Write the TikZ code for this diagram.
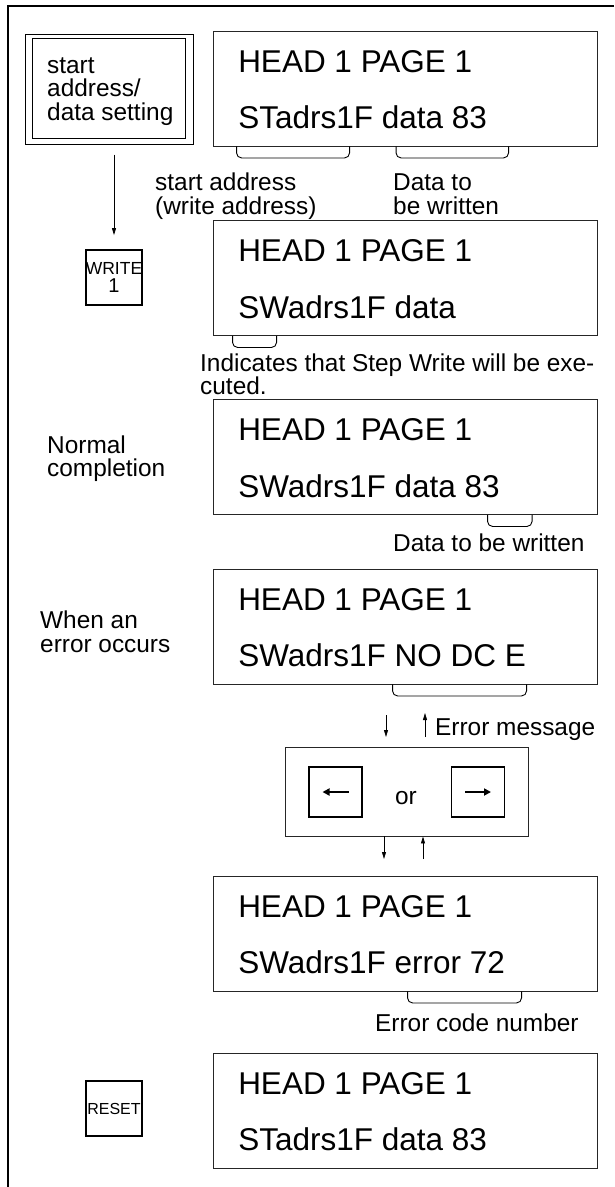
\documentclass[tikz,border=0pt]{standalone}
\usepackage{fontspec}
\setmainfont{Liberation Sans}
\usetikzlibrary{arrows.meta}
\usetikzlibrary{calc}

\begin{document}
\begin{tikzpicture}[x=1pt,y=-1pt,
    lcd/.style={draw=black!85,line width=0.9pt,minimum width=383.5pt,minimum height=115pt,inner sep=0pt},
    lcdtxt/.style={anchor=base west,inner sep=0pt,font=\fontsize{31.5}{31.5}\selectfont},
    keybox/.style={draw,line width=1.8pt,minimum width=56pt,minimum height=55pt,inner sep=0pt},
    lbl/.style={inner sep=0pt,align=left,font=\fontsize{24.4}{23.5}\selectfont},
    brk/.style={line width=0.9pt,rounded corners=5pt},
    arr/.style={line width=0.8pt,-{Triangle[length=7pt,width=4pt]}},
    keyarr/.style={line width=2.2pt,-{Triangle[length=7pt,width=7pt]}}]

    \useasboundingbox (0,0) rectangle (614,1187);

    % page frame (top and left only)
    \draw[line width=1.8pt] (614,6) -- (8,6) -- (8,1187);

    % the six display panels
    \node[lcd] (d1) at (405.25,88.5) {};
    \node[lcd] (d2) at (405.25,278) {};
    \node[lcd] (d3) at (405.25,457) {};
    \node[lcd] (d4) at (405.25,626.5) {};
    \node[lcd] (d5) at (405.25,933.5) {};
    \node[lcd] (d6) at (405.25,1110.5) {};

    % panel contents
    \node[lcdtxt] (d1a) at ($(d1.north west)+(25,41.5)$) {HEAD 1 PAGE 1};
    \node[lcdtxt] (d1b) at ($(d1.north west)+(25,98)$) {STadrs1F data 83};
    \node[lcdtxt] (d2a) at ($(d2.north west)+(25,41.5)$) {HEAD 1 PAGE 1};
    \node[lcdtxt] (d2b) at ($(d2.north west)+(25,98)$) {SWadrs1F data};
    \node[lcdtxt] (d3a) at ($(d3.north west)+(25,41.5)$) {HEAD 1 PAGE 1};
    \node[lcdtxt] (d3b) at ($(d3.north west)+(25,98)$) {SWadrs1F data 83};
    \node[lcdtxt] (d4a) at ($(d4.north west)+(25,41.5)$) {HEAD 1 PAGE 1};
    \node[lcdtxt] (d4b) at ($(d4.north west)+(25,98)$) {SWadrs1F NO DC E};
    \node[lcdtxt] (d5a) at ($(d5.north west)+(25,41.5)$) {HEAD 1 PAGE 1};
    \node[lcdtxt] (d5b) at ($(d5.north west)+(25,98)$) {SWadrs1F error 72};
    \node[lcdtxt] (d6a) at ($(d6.north west)+(25,41.5)$) {HEAD 1 PAGE 1};
    \node[lcdtxt] (d6b) at ($(d6.north west)+(25,98)$) {STadrs1F data 83};

    % brackets under the panels
    \draw[brk] ($(d1.south west)+(23.5,0)$) -- ++(0,11.5) -- ++(113,0) -- ++(0,-11.5);
    \draw[brk] ($(d1.south west)+(183,0)$) -- ++(0,11.5) -- ++(112.5,0) -- ++(0,-11.5);
    \draw[brk] ($(d2.south west)+(19.5,0)$) -- ++(0,11.5) -- ++(44,0) -- ++(0,-11.5);
    \draw[brk] ($(d3.south west)+(274.5,0)$) -- ++(0,11.5) -- ++(44.5,0) -- ++(0,-11.5);
    \draw[brk] ($(d4.south west)+(179.5,0)$) -- ++(0,11.5) -- ++(134,0) -- ++(0,-11.5);
    \draw[brk] ($(d5.south west)+(194.5,0)$) -- ++(0,11.5) -- ++(114,0) -- ++(0,-11.5);

    % labels (base = last line)
    \node[lbl,anchor=base west] (lsa) at (155,214) {start address\\(write address)};
    \node[lbl,anchor=base west] (ldw) at (393,214) {Data to\\be written};
    \node[lbl,anchor=base west] (lsw) at (200,394.5) {Indicates that Step Write will be exe-\\cuted.};
    \node[lbl,anchor=base west] (lnc) at (47,476.5) {Normal\\completion};
    \node[lbl,anchor=base west] (ldw2) at (393,551.5) {Data to be written};
    \node[lbl,anchor=base west] (lerr) at (40,652) {When an\\error occurs};
    \node[lbl,anchor=base west] (lmsg) at (435,735) {Error message};
    \node[lbl,anchor=base west] (lcode) at (375,1031) {Error code number};

    % start address / data setting box (double frame)
    \node[draw,line width=1pt,minimum width=168pt,minimum height=110pt] (setbox) at (109,89) {};
    \draw[line width=1pt] ($(setbox.north west)+(8,5)$) rectangle ($(setbox.south east)+(-8,-6)$);
    \node[lbl,anchor=base west] (lset) at (47,120) {start\\address/\\data setting};

    % keys
    \node[keybox,align=center,font=\fontsize{17.5}{18}\selectfont] (kwrite) at (114,277.5) {WRITE\\{\fontsize{20}{18}\selectfont 1}};
    \node[keybox,font=\fontsize{16}{16}\selectfont] (kreset) at (114,1108.5) {RESET};
    \draw[arr,shorten <=10pt,shorten >=14pt] (setbox.south -| kwrite.north) -- (kwrite.north);

    % cursor keys
    \node[draw=black!85,line width=0.9pt,minimum width=243pt,minimum height=89pt] (orbox) at (406.5,791.5) {};
    \node[keybox,minimum width=53pt,minimum height=50pt] (kleft) at (335.5,792) {};
    \node[keybox,minimum width=53pt,minimum height=50pt] (kright) at (478,792) {};
    \node[lbl] (lor) at (406,798) {or};
    \draw[keyarr] ([xshift=13pt]kleft.center) -- ([xshift=-13pt]kleft.center);
    \draw[keyarr] ([xshift=-13pt]kright.center) -- ([xshift=13pt]kright.center);

    % small arrows round the cursor keys
    \coordinate (dn1) at (386,715);
    \coordinate (dn2) at (386,737);
    \coordinate (up1) at (425,737);
    \coordinate (up2) at (425,713);
    \coordinate (dn3) at (384,859);
    \coordinate (up3) at (423,859);
    \draw[arr] (dn1) -- (dn2);
    \draw[arr] (up1) -- (up2);
    \draw[arr] (dn3 |- orbox.south) -- (dn3);
    \draw[arr] (up3) -- (up3 |- orbox.south);

\end{tikzpicture}
\end{document}
